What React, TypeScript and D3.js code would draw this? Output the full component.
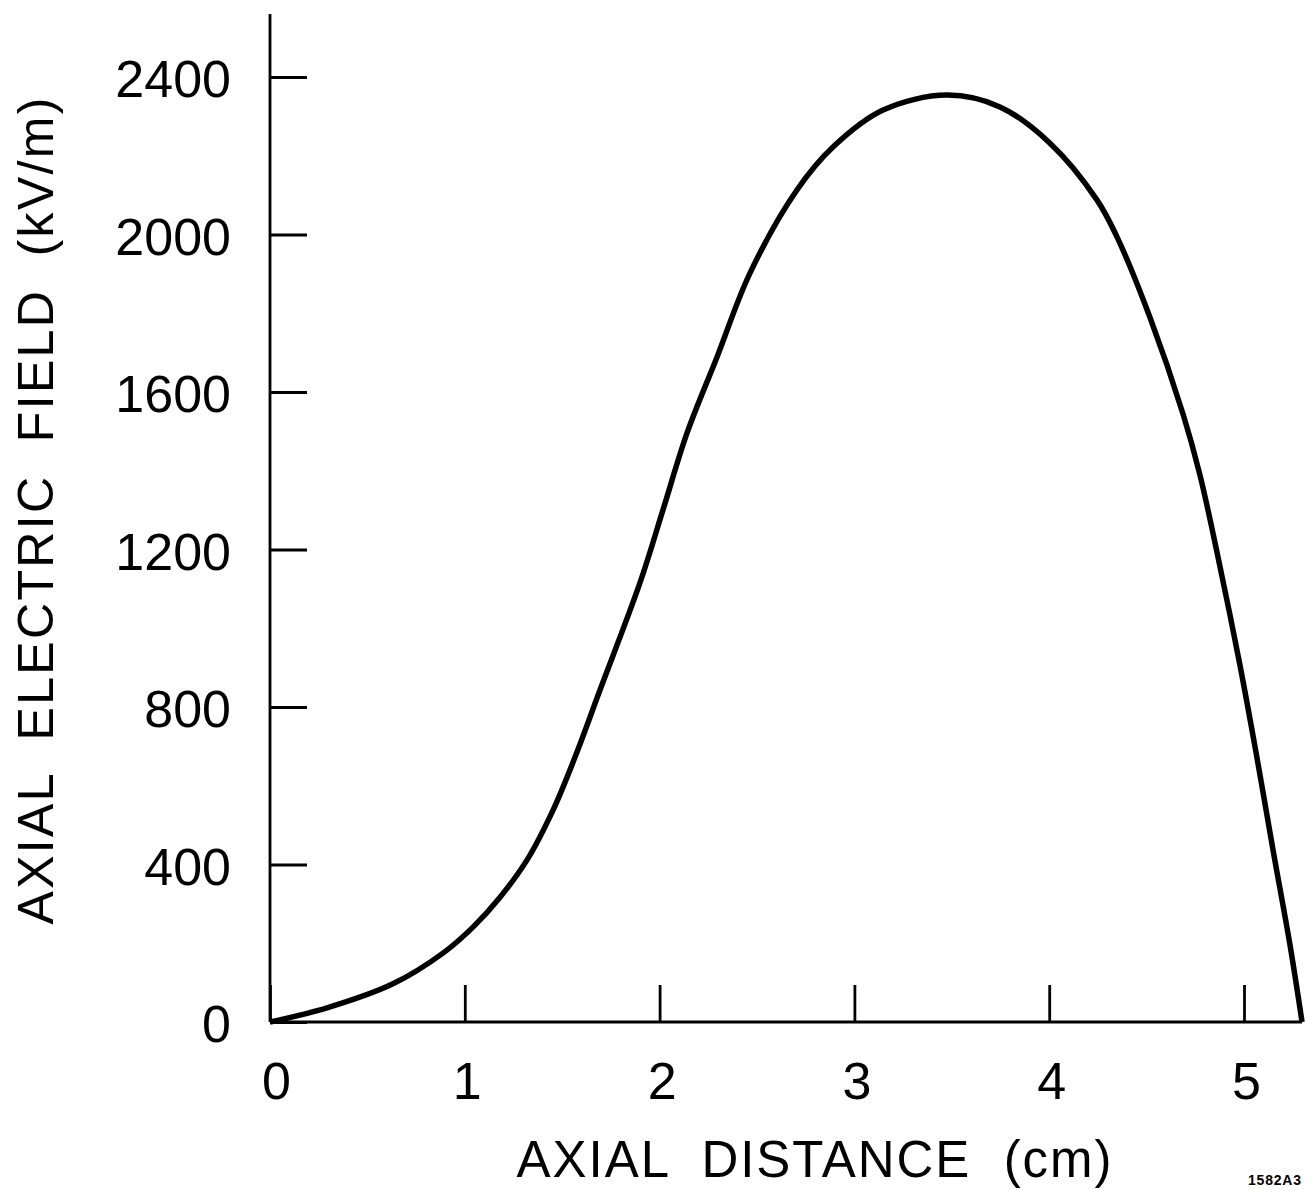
import { useEffect, useRef } from "react";
import * as d3 from "d3";

// Axial distance (cm) and field (kV/m)
const DISTANCE = [
  0, 0.293, 0.631, 0.888, 1.042, 1.181, 1.319, 1.453, 1.566, 1.694, 1.899,
  2.017, 2.141, 2.295, 2.464, 2.705, 2.89, 3.147, 3.475, 3.747, 4.004, 4.245,
  4.348, 4.517, 4.687, 4.774, 4.861, 4.979, 5.067, 5.149, 5.236, 5.298,
];
const FIELD = [
  0, 36, 97, 175, 241, 317, 411, 538, 673, 843, 1115, 1300, 1496, 1689, 1902,
  2113, 2222, 2316, 2354, 2324, 2232, 2088, 1994, 1790, 1544, 1389, 1194, 907,
  670, 437, 196, 0,
];

const X_TICKS = [0, 1, 2, 3, 4, 5];
const Y_TICKS = [0, 400, 800, 1200, 1600, 2000, 2400];
const X_TICK_LABELS = ["0", "1", "2", "3", "4", "5"];
const Y_TICK_LABELS = ["0", "400", "800", "1200", "1600", "2000", "2400"];

const X_TITLE = "AXIAL  DISTANCE  (cm)";
const Y_TITLE = "AXIAL  ELECTRIC  FIELD  (kV/m)";
const FIG_ID = "1582A3";

const FONT = "'Liberation Sans', Arial, sans-serif";

export default function App() {
  const svgRef = useRef<SVGSVGElement | null>(null);

  useEffect(() => {
    const width = 1306;
    const height = 1190;
    const svg = d3.select(svgRef.current);
    svg.selectAll("*").remove();
    svg.attr("width", width).attr("height", height);

    const data = DISTANCE.map((d, i) => ({ x: d, y: FIELD[i] }));

    // ----- Scales -----
    const x = d3.scaleLinear().domain([0, 5]).range([270, 1244]);
    const y = d3.scaleLinear().domain([0, 2400]).range([1022, 77]);

    // ----- Axis lines -----
    svg.append("line")
      .attr("x1", x(0)).attr("x2", x(0))
      .attr("y1", y(0)).attr("y2", y(2560))
      .attr("stroke", "#000").attr("stroke-width", 2.8);

    svg.append("line")
      .attr("x1", x(0)).attr("x2", x(d3.max(DISTANCE) as number))
      .attr("y1", y(0)).attr("y2", y(0))
      .attr("stroke", "#000").attr("stroke-width", 2.8);

    // ----- Y axis (ticks point inward) -----
    const yAxisG = svg.append("g")
      .attr("transform", `translate(${x(0)},0)`)
      .call(
        d3.axisLeft(y)
          .tickValues(Y_TICKS)
          .tickSize(-37)
          .tickSizeOuter(0)
          .tickPadding(39)
          .tickFormat((_, i) => Y_TICK_LABELS[i])
      );
    yAxisG.select(".domain").remove();
    yAxisG.selectAll("line").attr("stroke", "#000").attr("stroke-width", 2.8);
    yAxisG.selectAll("text")
      .attr("font-family", FONT)
      .attr("font-size", 52)
      .attr("fill", "#000")
      .attr("dy", "0.38em");

    // ----- X axis -----
    const xAxisG = svg.append("g")
      .attr("transform", `translate(0,${y(0)})`)
      .call(
        d3.axisBottom(x)
          .tickValues(X_TICKS)
          .tickSize(-37)
          .tickSizeOuter(0)
          .tickPadding(40)
          .tickFormat((_, i) => X_TICK_LABELS[i])
      );
    xAxisG.select(".domain").remove();
    xAxisG.selectAll("line").attr("stroke", "#000").attr("stroke-width", 2.8);
    xAxisG.selectAll("text")
      .attr("font-family", FONT)
      .attr("font-size", 52)
      .attr("fill", "#000")
      .attr("dx", (_, i) => (i === 0 ? 6 : 2));

    // ----- Curve -----
    const line = d3.line<{ x: number; y: number }>()
      .x((d) => x(d.x))
      .y((d) => y(d.y))
      .curve(d3.curveCatmullRom.alpha(0.5));

    svg.append("path")
      .datum(data)
      .attr("fill", "none")
      .attr("stroke", "#000")
      .attr("stroke-width", 5.5)
      .attr("stroke-linejoin", "round")
      .attr("d", line);

    // ----- Titles -----
    svg.append("text")
      .attr("x", 814)
      .attr("y", 1177)
      .attr("text-anchor", "middle")
      .attr("font-family", FONT)
      .attr("font-size", 51)
      .attr("textLength", 595)
      .attr("lengthAdjust", "spacing")
      .style("white-space", "pre")
      .text(X_TITLE);

    svg.append("text")
      .attr("transform", "translate(53,511) rotate(-90)")
      .attr("text-anchor", "middle")
      .attr("font-family", FONT)
      .attr("font-size", 50)
      .attr("textLength", 827)
      .attr("lengthAdjust", "spacing")
      .style("white-space", "pre")
      .text(Y_TITLE);

    svg.append("text")
      .attr("x", 1248)
      .attr("y", 1185)
      .attr("font-family", FONT)
      .attr("font-size", 14)
      .attr("font-weight", "bold")
      .attr("textLength", 53)
      .attr("lengthAdjust", "spacing")
      .text(FIG_ID);
  }, []);

  return (
    <div style={{ position: "absolute", left: 0, top: 0, background: "#fff" }}>
      <svg ref={svgRef} style={{ display: "block" }}></svg>
    </div>
  );
}
